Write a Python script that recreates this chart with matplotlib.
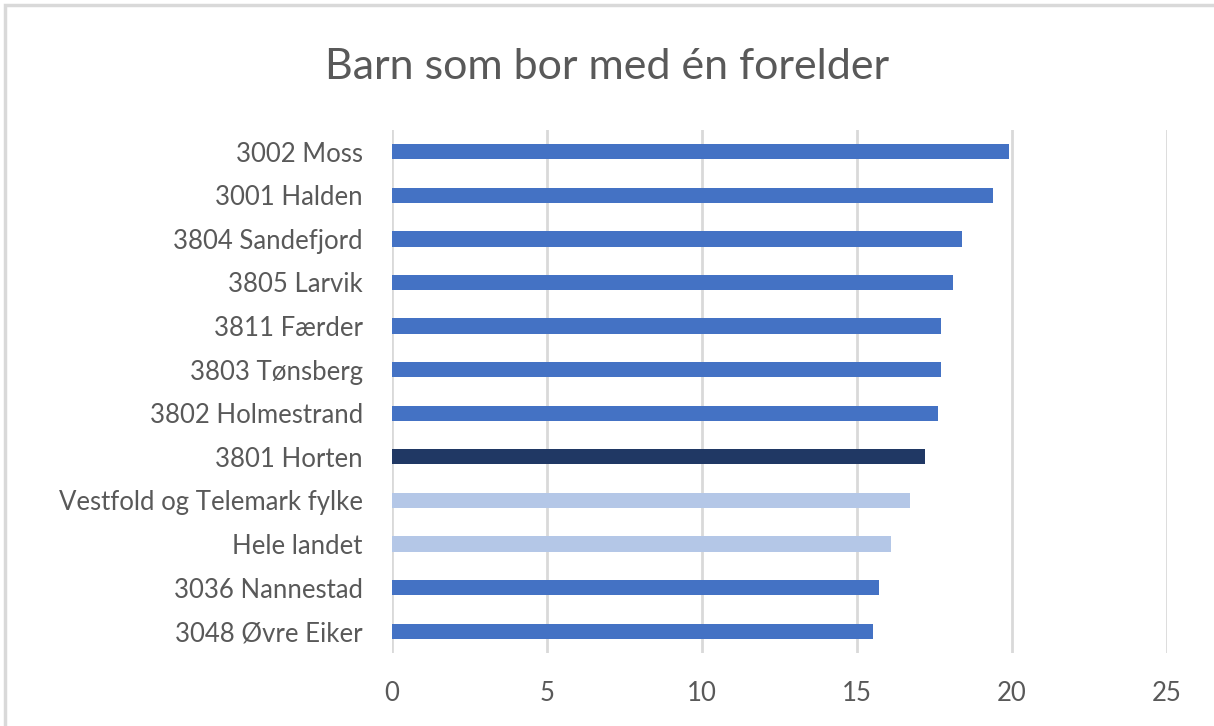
import matplotlib.pyplot as plt
from matplotlib.patches import Rectangle

plt.rcParams['font.family'] = ['Lato', 'DejaVu Sans']

kommuner = ['3002 Moss', '3001 Halden', '3804 Sandefjord', '3805 Larvik',
            '3811 Færder', '3803 Tønsberg', '3802 Holmestrand', '3801 Horten',
            'Vestfold og Telemark fylke', 'Hele landet', '3036 Nannestad',
            '3048 Øvre Eiker']
verdier = [19.9, 19.4, 18.4, 18.1, 17.7, 17.7, 17.6, 17.2, 16.7, 16.1, 15.7, 15.5]

blaa = '#4472C4'
farger = []
for k in kommuner:
    if k == '3801 Horten':
        farger.append('#203864')
    elif k in ('Vestfold og Telemark fylke', 'Hele landet'):
        farger.append('#B4C7E7')
    else:
        farger.append(blaa)

tekst = '#595959'

fig = plt.figure(figsize=(12.14, 7.26), dpi=100)
ax = fig.add_axes([0.3229, 0.1006, 0.6384, 0.7204])

y = list(range(len(kommuner)))
ax.barh(y, verdier, height=0.35, color=farger, zorder=3)
ax.set_ylim(len(kommuner) - 0.5, -0.5)
ax.set_xlim(0, 25)
ax.set_xticks([0, 5, 10, 15, 20, 25])
ax.set_yticks(y)
ax.set_yticklabels(kommuner)

ax.grid(axis='x', color='#D9D9D9', linewidth=2, zorder=0)
ax.grid(axis='y', visible=False)
for s in ax.spines.values():
    s.set_visible(False)
ax.tick_params(axis='both', length=0, labelsize=18.5, labelcolor=tekst)
ax.tick_params(axis='y', pad=21)
ax.tick_params(axis='x', pad=20)

fig.text(0.5, 0.908, 'Barn som bor med én forelder', ha='center', va='center',
         fontsize=31, color=tekst)

# ramme rundt diagrammet
fig.patches.append(Rectangle((5 / 1214, -0.1), 1.2, 1.1 - 5 / 726, transform=fig.transFigure,
                             fill=False, edgecolor='#D9D9D9', linewidth=2.5))

fig.savefig('out.png', dpi=100)
